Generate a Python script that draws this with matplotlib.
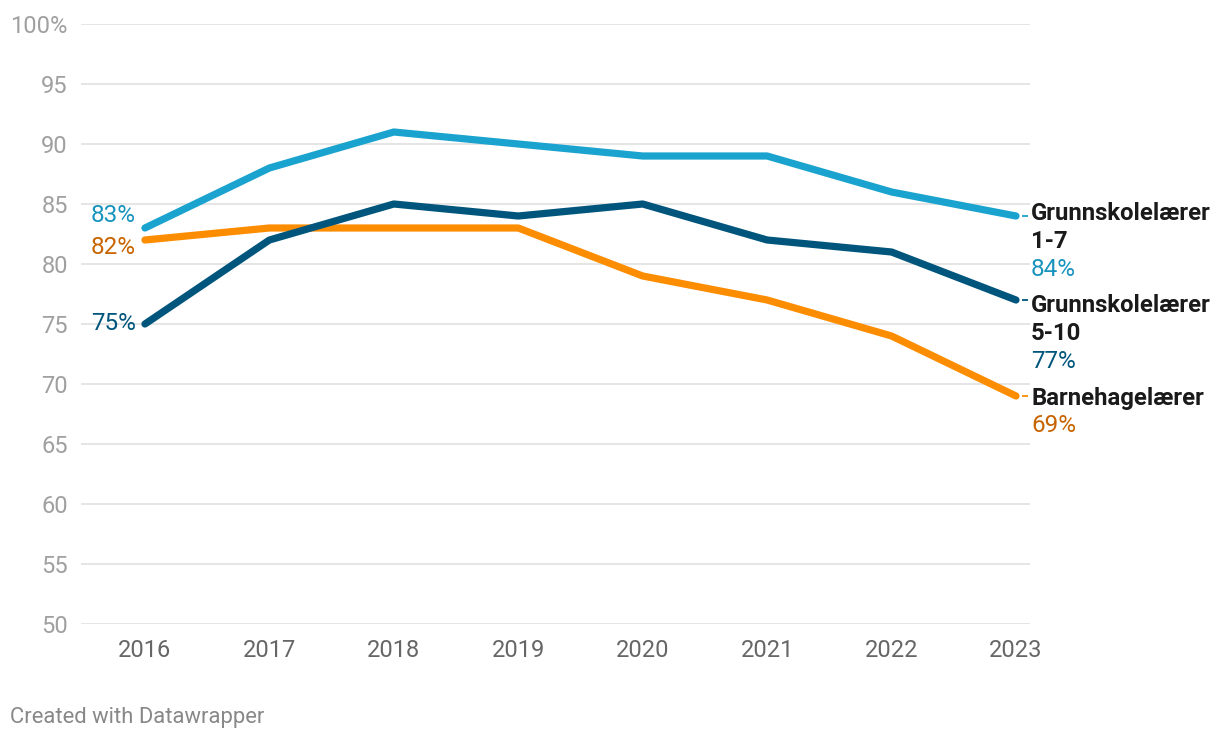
import matplotlib
matplotlib.use("Agg")
import matplotlib.pyplot as plt
from matplotlib.transforms import offset_copy

plt.rcParams['font.family'] = ['Roboto', 'DejaVu Sans']

years = [2016, 2017, 2018, 2019, 2020, 2021, 2022, 2023]
g17 = [83, 88, 91, 90, 89, 89, 86, 84]
g510 = [75, 82, 85, 84, 85, 82, 81, 77]
barn = [82, 83, 83, 83, 79, 77, 74, 69]

names = [["Grunnskolelærer", "1-7"], ["Grunnskolelærer", "5-10"], ["Barnehagelærer"]]
series = [g17, g510, barn]
line_colors = ["#1ba3cf", "#00557c", "#fd8d00"]
text_colors = ["#1793bd", "#00557c", "#c86400"]
left_offsets = [12, 0, -7]    # pixel nudges to avoid overlap
right_offsets = [2, -6, -2]   # pixel nudges for right labels

yticks = [50, 55, 60, 65, 70, 75, 80, 85, 90, 95, 100]
ytick_labels = ["50", "55", "60", "65", "70", "75", "80", "85", "90", "95", "100%"]

fig = plt.figure(figsize=(12.2, 7.4), dpi=100)
ax = fig.add_axes([81/1220, 116/740, 949/1220, 600/740])
ax.set_xlim(2015.486, 2023.1125)
ax.set_ylim(50, 100)

for t in yticks:
    ax.axhline(t, color="#e3e3e3", lw=1.3, zorder=0)

for i in [2, 1, 0]:
    ax.plot(years, series[i], color=line_colors[i], lw=5.2,
            solid_capstyle='round', solid_joinstyle='round', zorder=3 + (i == 0))

for s in ax.spines.values():
    s.set_visible(False)
ax.set_yticks(yticks)
ax.set_yticklabels(ytick_labels)
ax.set_xticks(years)
ax.set_xticklabels([str(y) for y in years])
ax.tick_params(axis='y', length=0, pad=9.5, labelsize=17, labelcolor="#a0a0a0")
ax.tick_params(axis='x', length=0, pad=11, labelsize=17, labelcolor="#666666")

# left value labels
for i in range(3):
    tr = offset_copy(ax.transData, fig=fig, x=-9, y=left_offsets[i], units='dots')
    ax.text(years[0], series[i][0], f"{series[i][0]}%", transform=tr,
            ha='right', va='center', fontsize=17.5, color=text_colors[i])

# right labels
line_h = 28
for i in range(3):
    yv = series[i][-1]
    dash_tr = offset_copy(ax.transData, fig=fig, x=9, y=0, units='dots')
    ax.plot([years[-1]], [yv], marker='_', ms=4, mew=1.3,
            color=line_colors[i], transform=dash_tr, clip_on=False)
    lines = names[i]
    off = right_offsets[i]
    for k, ln in enumerate(lines):
        tr = offset_copy(ax.transData, fig=fig, x=15, y=off - k * line_h, units='dots')
        ax.text(years[-1], yv, ln, transform=tr, ha='left', va='center',
                fontsize=17.2, fontweight='bold', color="#1a1a1a")
    tr = offset_copy(ax.transData, fig=fig, x=15, y=off - len(lines) * line_h, units='dots')
    ax.text(years[-1], yv, f"{yv}%", transform=tr, ha='left', va='center',
            fontsize=17.5, color=text_colors[i])

fig.text(10/1220, 1 - 717/740, "Created with Datawrapper", fontsize=15.8,
         color="#888888", ha='left', va='center')

fig.savefig("out.png", dpi=100, facecolor="white")
